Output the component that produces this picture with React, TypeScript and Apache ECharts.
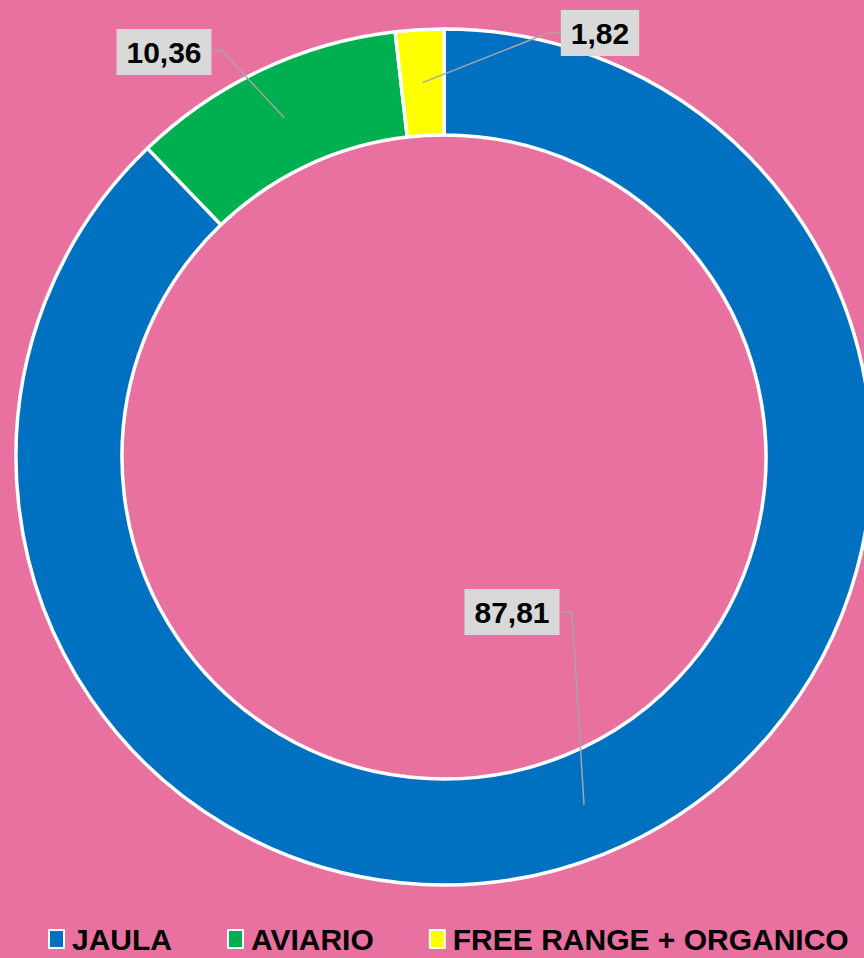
import React, { useEffect, useRef } from "react";
import * as echarts from "echarts";

const categories = ["JAULA", "AVIARIO", "FREE RANGE + ORGANICO"];
const values = [87.81, 10.36, 1.82];
const colors = ["#0070C0", "#00B050", "#FFFF00"];

// label layout (positions only): label center, elbow point, end point
const labelCenters = [[512, 612], [164, 52], [600, 33]];
const labelElbows = [[572, 612], [222, 51], [548, 33]];
const labelEnds = [[561, 612], [213, 51], [562, 33]];

const CENTER = [444, 457];
const R_IN = 322;
const R_OUT = 428;

export default function App() {
  const ref = useRef<HTMLDivElement>(null);
  useEffect(() => {
    if (!ref.current) return;
    const chart = echarts.init(ref.current, null, { renderer: "svg" });
    const total = values.reduce((a, b) => a + b, 0);
    const mids: number[] = [];
    let acc = 0;
    values.forEach((v) => {
      mids.push(((acc + v / 2) / total) * 2 * Math.PI);
      acc += v;
    });
    const rMid = (R_IN + R_OUT) / 2;
    chart.setOption({
      animation: false,
      backgroundColor: "#E871A0",
      legend: {
        data: categories,
        top: 924,
        left: 48,
        padding: 0,
        icon: "rect",
        itemWidth: 15,
        itemHeight: 18,
        itemGap: 55,
        itemStyle: { borderColor: "#FFFFFF", borderWidth: 2 },
        textStyle: {
          fontFamily: "Liberation Sans",
          fontWeight: "bold",
          fontSize: 30,
          color: "#000000",
          padding: [0, 0, 0, 3],
        },
      },
      series: [
        {
          type: "pie",
          name: "rings",
          center: CENTER,
          radius: [R_IN, R_OUT],
          startAngle: 90,
          clockwise: true,
          data: categories.map((c, i) => ({
            name: c,
            value: values[i],
            itemStyle: { color: colors[i] },
          })),
          itemStyle: { borderColor: "#FFFFFF", borderWidth: 3.5 },
          label: { show: false },
          labelLine: { show: false },
          emphasis: { disabled: true },
          z: 1,
        },
        {
          type: "pie",
          name: "labels",
          center: CENTER,
          radius: [R_IN, R_OUT],
          startAngle: 90,
          clockwise: true,
          silent: true,
          legendHoverLink: false,
          data: categories.map((c, i) => ({
            name: c,
            value: values[i],
            itemStyle: { color: "rgba(0,0,0,0)" },
          })),
          itemStyle: { borderWidth: 0 },
          label: {
            show: true,
            position: "outside",
            formatter: (p: any) => String(p.value).replace(".", ","),
            backgroundColor: "#D9D9D9",
            padding: [9, 10, 7, 10],
            fontSize: 30,
            fontWeight: "bold",
            fontFamily: "Liberation Sans",
            color: "#000000",
          },
          labelLine: {
            show: true,
            lineStyle: { color: "#A6A6A6", width: 1.5 },
          },
          labelLayout: (params: any) => {
            const i = params.dataIndex;
            const a = mids[i];
            const start = [
              CENTER[0] + rMid * Math.sin(a),
              CENTER[1] - rMid * Math.cos(a),
            ];
            return {
              x: labelCenters[i][0],
              y: labelCenters[i][1],
              align: "center",
              verticalAlign: "middle",
              labelLinePoints: [start, labelElbows[i], labelEnds[i]],
            };
          },
          emphasis: { disabled: true },
          z: 5,
        },
      ],
    });
    return () => chart.dispose();
  }, []);
  return (
    <div
      ref={ref}
      style={{ position: "fixed", left: 0, top: 0, width: 864, height: 958 }}
    />
  );
}
